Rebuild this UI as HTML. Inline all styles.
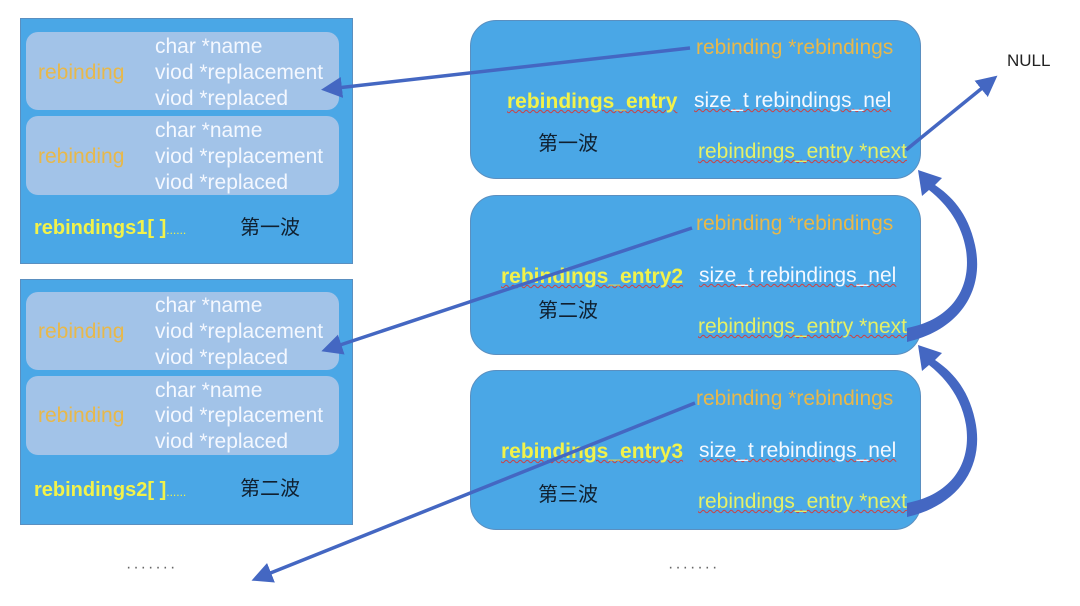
<!DOCTYPE html>
<html><head><meta charset="utf-8"><style>
body{margin:0;width:1080px;height:606px;background:#fff;position:relative;overflow:hidden;font-family:"Liberation Sans","Noto Sans CJK SC",sans-serif;}
.a{position:absolute;}
.lb{background:#4aa7e6;border:1px solid #5a8fc0;}
.in{background:#a2c3e8;border-radius:12px;}
.rb{background:#4aa7e6;border:1px solid #5a8fc0;border-radius:26px;}
.t{position:absolute;font-size:21px;white-space:nowrap;line-height:1;}
.w{color:#f4f8ff}.o{color:#e8b84a}.y{color:#f2f24a;font-weight:bold;font-size:20px}.g{color:#e6f066}.k{color:#102030;font-size:20px}
.u{text-decoration:underline wavy #d04040;text-decoration-thickness:1px}
</style></head><body>
<div class="a lb" style="left:20px;top:18px;width:331px;height:244px"></div>
<div class="a in" style="left:26px;top:32px;width:313px;height:78px"></div>
<div class="a in" style="left:26px;top:116px;width:313px;height:79px"></div>
<div class="a lb" style="left:20px;top:279px;width:331px;height:244px"></div>
<div class="a in" style="left:26px;top:292px;width:313px;height:78px"></div>
<div class="a in" style="left:26px;top:376px;width:313px;height:79px"></div>

<div class="t o" style="left:38px;top:62px">rebinding</div>
<div class="t w" style="left:155px;top:36px">char *name</div>
<div class="t w" style="left:155px;top:62px">viod *replacement</div>
<div class="t w" style="left:155px;top:88px">viod *replaced</div>
<div class="t o" style="left:38px;top:146px">rebinding</div>
<div class="t w" style="left:155px;top:120px">char *name</div>
<div class="t w" style="left:155px;top:146px">viod *replacement</div>
<div class="t w" style="left:155px;top:172px">viod *replaced</div>
<div class="t y" style="left:34px;top:218px">rebindings1[ ]<span style="font-size:12px;font-weight:normal">......</span></div>
<div class="t k" style="left:240px;top:218px">第一波</div>

<div class="t o" style="left:38px;top:321px">rebinding</div>
<div class="t w" style="left:155px;top:295px">char *name</div>
<div class="t w" style="left:155px;top:321px">viod *replacement</div>
<div class="t w" style="left:155px;top:347px">viod *replaced</div>
<div class="t o" style="left:38px;top:405px">rebinding</div>
<div class="t w" style="left:155px;top:380px">char *name</div>
<div class="t w" style="left:155px;top:405px">viod *replacement</div>
<div class="t w" style="left:155px;top:431px">viod *replaced</div>
<div class="t y" style="left:34px;top:480px">rebindings2[ ]<span style="font-size:12px;font-weight:normal">......</span></div>
<div class="t k" style="left:240px;top:479px">第二波</div>

<div class="a rb" style="left:470px;top:20px;width:449px;height:157px"></div>
<div class="a rb" style="left:470px;top:195px;width:449px;height:158px"></div>
<div class="a rb" style="left:470px;top:370px;width:449px;height:158px"></div>

<div class="t o" style="left:696px;top:37px">rebinding *rebindings</div>
<div class="t y u" style="left:507px;top:91px;font-size:21px">rebindings_entry</div>
<div class="t w u" style="left:694px;top:90px">size_t rebindings_nel</div>
<div class="t k" style="left:538px;top:134px">第一波</div>
<div class="t g u" style="left:698px;top:141px">rebindings_entry *next</div>

<div class="t o" style="left:696px;top:213px">rebinding *rebindings</div>
<div class="t y u" style="left:501px;top:266px;font-size:21px">rebindings_entry2</div>
<div class="t w u" style="left:699px;top:265px">size_t rebindings_nel</div>
<div class="t k" style="left:538px;top:301px">第二波</div>
<div class="t g u" style="left:698px;top:316px">rebindings_entry *next</div>

<div class="t o" style="left:696px;top:388px">rebinding *rebindings</div>
<div class="t y u" style="left:501px;top:441px;font-size:21px">rebindings_entry3</div>
<div class="t w u" style="left:699px;top:440px">size_t rebindings_nel</div>
<div class="t k" style="left:538px;top:485px">第三波</div>
<div class="t g u" style="left:698px;top:491px">rebindings_entry *next</div>

<div class="t" style="left:1007px;top:52px;font-size:17px;color:#222">NULL</div>
<div class="t" style="left:126px;top:560px;font-size:16px;color:#666;letter-spacing:2px">·······</div>
<div class="t" style="left:668px;top:560px;font-size:16px;color:#666;letter-spacing:2px">·······</div>

<svg class="a" style="left:0;top:0" width="1080" height="606">
<defs><marker id="m" markerWidth="6" markerHeight="6" refX="4" refY="3" orient="auto" markerUnits="strokeWidth"><path d="M0,0 L6,3 L0,6 Z" fill="#4467c2"/></marker></defs>
<g stroke="#4467c2" stroke-width="3.5" fill="none">
<line x1="690" y1="48" x2="328" y2="89" marker-end="url(#m)"/>
<line x1="692" y1="228" x2="328" y2="349" marker-end="url(#m)"/>
<line x1="695" y1="403" x2="258" y2="578" marker-end="url(#m)"/>
<line x1="906" y1="150" x2="992" y2="80" marker-end="url(#m)"/>
</g>
<g fill="#4467c2">
<path d="M907,328 L907,342 C960,330 985,290 975,245 C968,212 950,195 935,185 L942,178 L918,170 L922,196 L929,190 C948,205 962,225 966,250 C972,290 950,320 907,328 Z"/>
<path d="M907,503 L907,517 C960,505 985,465 975,420 C968,387 950,370 935,360 L942,353 L918,345 L922,371 L929,365 C948,380 962,400 966,425 C972,465 950,495 907,503 Z"/>
</g>
</svg>
</body></html>
